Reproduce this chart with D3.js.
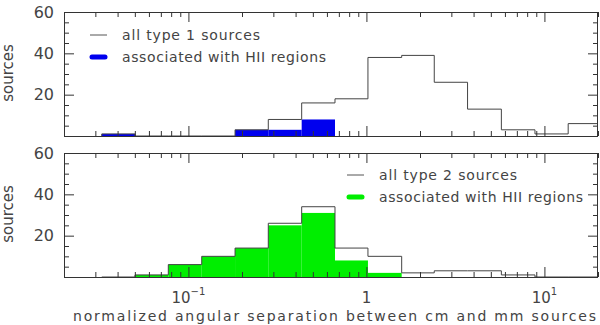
<!DOCTYPE html>
<html>
<head>
<meta charset="utf-8">
<script src="https://cdn.jsdelivr.net/npm/d3@7"></script>
<style>
  body { margin: 0; background: #fff; }
  text { font-family: "DejaVu Sans", sans-serif; fill: #444; }
</style>
</head>
<body>
<svg id="main-svg" width="600" height="325"></svg>
<script>
// bin edges (normalized separation), 15 bins
const binEdges = [0.0326, 0.0501, 0.0771, 0.1188, 0.1828, 0.281, 0.4328, 0.666, 1.02, 1.578, 2.405, 3.70, 5.73, 8.85, 13.6, 21.0];

// counts per bin
const type1All = [1, 0, 0, 0, 3, 8, 16, 18, 38, 39, 26, 13, 3, 1, 6];
const type1HII = [1, 0, 0, 0, 3, 3, 8, 0, 0, 0, 0, 0, 0, 0, 0];
const type2All = [0, 1, 6, 10, 14, 26, 34, 14, 10, 2, 3, 3, 1, 0, 0];
const type2HII = [0, 1, 6, 10, 14, 25, 31, 8, 2, 0, 0, 0, 0, 0, 0];

const xMajor = [0.1, 1, 10];
const xMinor = [0.02, 0.03, 0.04, 0.05, 0.06, 0.07, 0.08, 0.09, 0.2, 0.3, 0.4, 0.5, 0.6, 0.7, 0.8, 0.9, 2, 3, 4, 5, 6, 7, 8, 9, 20];
const yMajor = [0, 20, 40, 60];
const yMinor = [5, 10, 15, 25, 30, 35, 45, 50, 55];
const yLabels = [20, 40, 60];

const svg = d3.select('#main-svg');
const left = 64, right = 598;
const x = d3.scaleLog().domain([0.02, 20]).range([left, right]);

const panels = [
    { top: 12, bottom: 136, all: type1All, hii: type1HII, color: '#0000ee',
      legend: ['all type 1 sources', 'associated with HII regions'], lx: 90, ly: 35 },
    { top: 153, bottom: 277, all: type2All, hii: type2HII, color: '#00ee00',
      legend: ['all type 2 sources', 'associated with HII regions'], lx: 347, ly: 175 },
];

svg.append('defs').selectAll('clipPath')
    .data(panels)
    .enter()
    .append('clipPath')
    .attr('id', (d, i) => 'clip' + i)
    .append('rect')
    .attr('x', left).attr('y', d => d.top)
    .attr('width', right - left).attr('height', d => d.bottom - d.top);

panels.forEach((p, i) => {
    const y = d3.scaleLinear().domain([0, 60]).range([p.bottom, p.top]);
    const g = svg.append('g');
    const plot = g.append('g').attr('clip-path', `url(#clip${i})`);

    // filled HII bars
    plot.selectAll('.bar')
        .data(p.hii.map((c, k) => ({ x0: binEdges[k], x1: binEdges[k + 1], c })).filter(d => d.c > 0))
        .enter()
        .append('rect')
        .attr('class', 'bar')
        .attr('x', d => x(d.x0))
        .attr('width', d => x(d.x1) - x(d.x0))
        .attr('y', d => y(d.c))
        .attr('height', d => y(0) - y(d.c))
        .style('fill', p.color);

    // outline of all sources
    const pts = [[binEdges[0], 0]];
    p.all.forEach((c, k) => pts.push([binEdges[k], c]));
    pts.push([binEdges[binEdges.length - 1], p.all[p.all.length - 1]]);
    pts.push([binEdges[binEdges.length - 1], 0]);
    plot.append('path')
        .datum(pts)
        .attr('d', d3.line().x(d => x(d[0])).y(d => y(d[1])).curve(d3.curveStepAfter))
        .style('fill', 'none')
        .style('stroke', '#444')
        .style('stroke-width', 1);

    // ticks on all four sides, pointing inward
    const tickAxis = (axis, tf, vals, size) => {
        const a = g.append('g').attr('transform', tf)
            .call(axis.tickValues(vals).tickSize(size).tickFormat(''));
        a.select('.domain').remove();
        a.selectAll('line').style('stroke', '#333');
    };
    tickAxis(d3.axisBottom(x), `translate(0,${p.bottom})`, xMajor, -10);
    tickAxis(d3.axisBottom(x), `translate(0,${p.bottom})`, xMinor, -5);
    tickAxis(d3.axisTop(x), `translate(0,${p.top})`, xMajor, -10);
    tickAxis(d3.axisTop(x), `translate(0,${p.top})`, xMinor, -5);
    tickAxis(d3.axisLeft(y), `translate(${left},0)`, yMajor, -10);
    tickAxis(d3.axisLeft(y), `translate(${left},0)`, yMinor, -5);
    tickAxis(d3.axisRight(y), `translate(${right},0)`, yMajor, -10);
    tickAxis(d3.axisRight(y), `translate(${right},0)`, yMinor, -5);

    // frame
    g.append('rect')
        .attr('x', left + 0.5).attr('y', p.top + 0.5)
        .attr('width', right - left - 1).attr('height', p.bottom - p.top)
        .style('fill', 'none').style('stroke', '#333');

    // y labels
    const ya = g.append('g').attr('transform', `translate(${left},0)`)
        .call(d3.axisLeft(y).tickValues(yLabels).tickSize(0).tickPadding(10));
    ya.select('.domain').remove();
    ya.selectAll('text').style('font-size', '16px').style('font-family', '"DejaVu Sans", sans-serif').style('fill', '#444');

    g.append('text')
        .attr('transform', `translate(13,${(p.top + p.bottom) / 2 - 1}) rotate(-90)`)
        .attr('text-anchor', 'middle')
        .style('font-size', '15px')
        .text('sources');

    // legend
    g.append('line')
        .attr('x1', p.lx).attr('x2', p.lx + 17)
        .attr('y1', p.ly).attr('y2', p.ly)
        .style('stroke', '#555').style('stroke-width', 1);
    g.append('line')
        .attr('x1', p.lx + 2).attr('x2', p.lx + 15)
        .attr('y1', p.ly + 22).attr('y2', p.ly + 22)
        .style('stroke', p.color).style('stroke-width', 5).style('stroke-linecap', 'round');
    g.selectAll('.leg')
        .data(p.legend)
        .enter()
        .append('text')
        .attr('class', 'leg')
        .attr('x', p.lx + 32)
        .attr('y', (d, k) => p.ly + 22 * k + 5)
        .attr('textLength', (d, k) => k === 0 ? 138 : 204)
        .style('font-size', '14px')
        .text(d => d);
});

// x tick labels with exponents
const xLab = [{ v: 0.1, base: '10', exp: '\u22121' }, { v: 1, base: '1', exp: '' }, { v: 10, base: '10', exp: '1' }];
xLab.forEach(d => {
    const t = svg.append('text')
        .attr('x', x(d.v))
        .attr('y', 303)
        .attr('text-anchor', 'middle')
        .style('font-size', '15px');
    t.append('tspan').text(d.base);
    if (d.exp) {
        t.append('tspan').attr('dy', -8).style('font-size', '10px').text(d.exp);
    }
});

svg.append('text')
    .attr('x', 73)
    .attr('y', 321)
    .attr('textLength', 523)
    .style('font-size', '14px')
    .text('normalized angular separation between cm and mm sources');
</script>
</body>
</html>
